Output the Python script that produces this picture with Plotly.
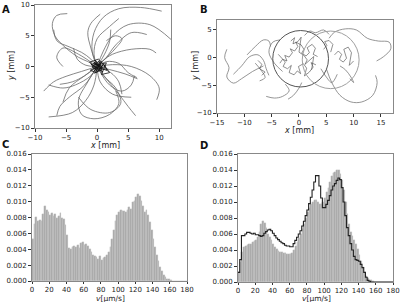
import numpy as np
import plotly.graph_objects as go

# ---------------- DATA ----------------
# Panel A trajectories (x, y in mm)
traj_A = [
    ([0, -1.5, -3, -5, -6.8, -7.2, -6.5, -4.8], [0, 0.8, 1.5, 3, 5, 7, 8.3, 8.6]),
    ([0, -0.8, -0.5, 1, 3.5, 7, 10.4], [0, 2.5, 5.5, 8, 9.4, 9.6, 9.0]),
    ([0, 1, 2.5, 5, 8.5, 11.9], [0, 2.5, 5, 6.8, 6.8, 4.4]),
    ([0, 1.5, 3, 5.5, 8], [0, 1.5, 3.5, 5.5, 5.2]),
    ([0, 2.5, 5.5, 8.5, 10, 9.6], [0, 0.3, 0, -1.5, -3.5, -5.4]),
    ([0, 1.5, 3.5, 5, 6.2], [0, -2, -4.5, -6.5, -8.0]),
    ([0, -0.5, -1.8, -4, -7.8], [0, -3, -5.5, -7.5, -8.2]),
    ([0, -2.5, -5, -7, -8.6], [0, -0.8, -1.6, -2.5, -4.0]),
    ([0, -2, -4, -6], [0, -1.5, -2.5, -2.9]),
    ([0, -1, -2.5, -4.5, -6.5, -7.0], [0, 1.2, 2.3, 3.2, 4.2, 6.0]),
    ([0, -1.5, -3, -2.5, -0.5, 2, 3.5, 3], [0, -2.5, -5.5, -7.8, -8.5, -7.8, -6, -4]),
    ([0, 1, 3, 3.8, 2, -1, -3], [0, -1.5, -3.5, -6, -7.5, -7, -5]),
    ([0, 2, 4.5, 6.5], [0, -0.5, -1.2, -2]),
    ([0, 1, 2.5, 5.5, 8.5, 9.5], [0, 1, 2, 2.8, 2.8, 2.2]),
    ([0, -0.5, 0, 2, 3.5], [0, 2, 4.5, 6.5, 7.8]),
    ([0, -2, -4.5, -6, -6.5], [0, -3, -5, -6.5, -8]),
    ([0, 1.5, 3.5, 5, 6.4], [0, 0.8, 0.5, -1, -1.8]),
    ([0, -3, -5.5, -6.5, -5.5], [0, 2, 3, 1.5, 0]),
    ([0, 2, 4, 5.5, 6], [0, -3, -4, -3, -1.5]),
    ([0, -1, -1.5, -1, 0.5], [0, 3, 5.5, 7, 8.5]),
    ([0, -2, -4.5, -5.5], [0, -1.5, -3.5, -5.8]),
    ([0, 3, 4, 3, 1.5], [0, 3, 4.5, 5, 4.2]),
    ([0, -1, -3.5, -5.5, -7.8], [0, -1.5, -3, -3.5, -3.0]),
    ([0, 0.5, 2.5, 5.5], [0, -2.5, -4.5, -5.0]),
    ([0, 1.2, 2.0, 2.2], [0, 2.0, 4.0, 6.0]),
    ([0, 2.2, 3.5, 4.0], [0, -1.0, -2.5, -4.5]),
    ([0, -1.8, -3.2, -3.8], [0, 0.2, 1.2, 3.0]),
]
center_A = [
    ([-0.9, -0.3, 0.2, -0.5, 0.6, 1.0, 0.1, -0.8, 0.3, 0.8, -0.2, -1.1, 0.4, -0.6, 0.9],
     [0.2, -0.4, 0.3, 0.7, -0.3, 0.4, -0.8, -0.1, 0.9, -0.5, -1.0, -0.6, 0.1, 0.5, -0.1]),
    ([-0.6, 0.5, -0.3, 0.9, -1.0, 0.1, 0.7, -0.4, 1.3, 0.2, -1.2, 0.0, 0.6],
     [-0.8, 0.1, 1.0, -0.9, 0.4, -0.2, 0.8, -1.1, 0.1, 1.2, 0.7, -0.5, -0.2]),
    ([0.3, 1.6, 1.1, 2.0, 0.7, 1.5, -0.2], [-0.3, -0.6, 0.3, -1.0, -1.3, 0.6, 0.2]),
]

# Panel B trajectories
traj_B = [
    ([-13.2, -13.6, -12.8, -13.2, -12, -10.5, -8.5, -6.5], [1.5, 0, -1.8, -3.5, -4.6, -3.8, -2.5, -1.5]),
    ([-12, -10.5, -9, -7.5, -6.5, -6, -5.5], [-3, -1.5, 0.2, 0.5, -0.5, -2, -3.2]),
    ([-9.5, -8, -6.5, -5.5, -5.2], [0.5, 2, 3.2, 3, 2]),
    ([-6, -4.5, -3, -1.8, -2.5], [-7, -7.3, -7, -6, -4.8]),
    ([-2, -1, 0, 0.5], [-7.5, -6.8, -5.5, -4.5]),
    ([5, 6, 7.5, 9.5, 11.5, 13.5, 14.3, 14], [-2, -4.5, -6.8, -8, -8, -6.8, -4.5, -3.2]),
    ([5.5, 6.5, 8.5, 10.5, 12.5, 14.5, 16.5, 16.8, 15.5, 14.2], [3.5, 4.6, 5.2, 5.0, 3.5, 3.0, 2.8, 1.6, 0.2, -0.6]),
    ([1, 2, 3, 4.5, 5.5], [4, 4.8, 4.5, 5, 4.2]),
    ([7.5, 8.5, 9.5, 10, 9.3], [-1.5, -2.2, -3.5, -4.5, -3.8]),
    ([-3.5, -4.8, -5.5, -4.5, -3], [3.2, 2.8, 1, -1, -2.5]),
    ([4, 5, 6, 7], [-2, -3.5, -4.5, -3]),
    ([-8, -7, -6.2, -7.2], [-1.0, -2.2, -3.6, -4.2]),
]
jagged_B = [
    ([-3.5, -3.0, -2.2, -2.6, -1.8, -1.2, -1.6, -0.8, -0.2, -0.6, 0.4, 0.9, 0.5, 1.3, 1.9, 1.5, 2.4, 3.0, 2.6, 3.4],
     [-1.0, -0.3, -0.6, 0.4, 0.1, 0.9, 1.6, 1.2, 2.0, 2.8, 2.3, 1.5, 0.8, 0.3, 0.9, 1.8, 2.4, 1.7, 0.6, 0.2]),
    ([-3.8, -3.2, -2.5, -2.9, -2.1, -1.4, -1.8, -0.9, -0.3, 0.3, -0.1, 0.8, 1.4, 1.0, 1.9, 2.6, 2.2, 3.1],
     [0.6, 0.0, -0.8, -1.6, -2.0, -1.4, -2.7, -3.1, -2.4, -2.9, -1.6, -1.1, -1.9, -3.3, -2.6, -1.7, -0.9, -1.3]),
    ([-1.5, -0.8, -1.1, -0.2, 0.4, 0.0, 0.9, 1.5, 1.1, 2.0, 2.7, 2.3],
     [3.0, 3.6, 2.5, 2.9, 3.7, 1.0, 0.4, -0.4, -1.2, -0.5, 0.2, -2.2]),
    ([6.5, 7.2, 7.8, 7.4, 8.1, 8.7, 8.2, 9.0, 9.6, 9.2, 10.0],
     [0.5, 1.2, 0.6, -0.3, -0.8, -0.1, 1.5, 1.9, 0.9, -1.4, -0.6]),
    ([-7.5, -6.8, -7.2, -6.2, -6.8], [-0.5, -1.2, -2.0, -2.6, -3.2]),
    ([4.5, 5.1, 4.7, 5.5, 6.2, 5.8], [1.5, 2.2, 2.9, 3.1, 2.4, 1.0]),
]
circle_cx = [0.3, 5.8]
circle_cy = [-0.2, -0.4]
circle_r = [5.1, 5.2]
circle_col = ["#555555", "#a0a0a0"]

# Panel C histogram (bin width 2 um/s, 0-180)
hist_C = [0.0053, 0.0072, 0.0081, 0.0076, 0.0077, 0.0076, 0.0085, 0.0094, 0.0090, 0.0087,
          0.0083, 0.0086, 0.0082, 0.0084, 0.0080, 0.0082, 0.0086, 0.0080, 0.0078, 0.0070,
          0.0058, 0.0042, 0.0040, 0.0043, 0.0044, 0.0043, 0.0045, 0.0042, 0.0048, 0.0049,
          0.0045, 0.0046, 0.0044, 0.0040, 0.0036, 0.0033, 0.0031, 0.0030, 0.0028, 0.0032,
          0.0027, 0.0029, 0.0030, 0.0033, 0.0036, 0.0043, 0.0053, 0.0064, 0.0075, 0.0083,
          0.0087, 0.0089, 0.0088, 0.0088, 0.0087, 0.0090, 0.0093, 0.0091, 0.0099, 0.0101,
          0.0106, 0.0110, 0.0107, 0.0101, 0.0095, 0.0087, 0.0089, 0.0083, 0.0074, 0.0064,
          0.0053, 0.0043, 0.0033, 0.0025, 0.0018, 0.0012, 0.0008, 0.0005, 0.0003, 0.0002,
          0.0001, 0.00005, 0.00003, 0.00002, 0.00002, 0.0, 0.0, 0.0, 0.0, 0.0]

# Panel D histograms
hist_D_bar = [0.0013, 0.0025, 0.0038, 0.0044, 0.0045, 0.0046, 0.0047, 0.0048, 0.0050, 0.0051,
              0.0053, 0.0056, 0.0063, 0.0073, 0.0076, 0.0074, 0.0068, 0.0060, 0.0056, 0.0052,
              0.0048, 0.0044, 0.0041, 0.0039, 0.0038, 0.0037, 0.0036, 0.0036, 0.0035, 0.0035,
              0.0035, 0.0036, 0.0040, 0.0045, 0.0050, 0.0055, 0.0060, 0.0066, 0.0072, 0.0080,
              0.0087, 0.0093, 0.0097, 0.0100, 0.0103, 0.0102, 0.0100, 0.0098, 0.0097, 0.0100,
              0.0105, 0.0112, 0.0118, 0.0125, 0.0133, 0.0136, 0.0138, 0.0140, 0.0140, 0.0135,
              0.0127, 0.0115, 0.0100, 0.0085, 0.0072, 0.0063, 0.0057, 0.0052, 0.0047, 0.0041,
              0.0034, 0.0026, 0.0019, 0.0013, 0.0008, 0.0005, 0.0003, 0.0002, 0.0001, 0.00005,
              0.00003, 0.00002, 0.00002, 0.00001, 0.0, 0.0, 0.0, 0.0, 0.0, 0.0]
hist_D_line = [0.0012, 0.0028, 0.0058, 0.0058, 0.0060, 0.0062, 0.0062, 0.0061, 0.0060, 0.0061,
               0.0059, 0.0059, 0.0058, 0.0057, 0.0058, 0.0061, 0.0063, 0.0065, 0.0066, 0.0064,
               0.0061, 0.0058, 0.0055, 0.0053, 0.0051, 0.0049, 0.0048, 0.0046, 0.0045, 0.0045,
               0.0044, 0.0044, 0.0048, 0.0052, 0.0056, 0.0060, 0.0064, 0.0070, 0.0076, 0.0083,
               0.0090, 0.0098, 0.0106, 0.0115, 0.0125, 0.0133, 0.0133, 0.0120, 0.0105, 0.0093,
               0.0093, 0.0097, 0.0102, 0.0108, 0.0115, 0.0120, 0.0123, 0.0127, 0.0130, 0.0128,
               0.0118, 0.0100, 0.0083, 0.0068, 0.0058, 0.0048, 0.0040, 0.0032, 0.0028, 0.0027,
               0.0026, 0.0022, 0.0018, 0.0012, 0.0006, 0.0002, 0.0001, 0.0, 0.0, 0.0,
               0.0, 0.0, 0.0, 0.0, 0.0, 0.0, 0.0, 0.0, 0.0, 0.0]

bin_width = 2
bin_edges = np.arange(0, 180 + bin_width, bin_width)
bin_centers = bin_edges[:-1] + bin_width / 2

# ---------------- FIGURE ----------------
fig = go.Figure()
TRAJ_COL = "#6a6a6a"

for xs, ys in traj_A:
    fig.add_trace(go.Scatter(x=xs, y=ys, mode="lines", line=dict(color=TRAJ_COL, width=0.8, shape="spline"),
                             xaxis="x", yaxis="y", showlegend=False, hoverinfo="skip"))
for xs, ys in center_A:
    fig.add_trace(go.Scatter(x=xs, y=ys, mode="lines", line=dict(color="#111111", width=0.8),
                             xaxis="x", yaxis="y", showlegend=False, hoverinfo="skip"))

for xs, ys in traj_B:
    fig.add_trace(go.Scatter(x=xs, y=ys, mode="lines", line=dict(color="#7a7a7a", width=0.8, shape="spline"),
                             xaxis="x2", yaxis="y2", showlegend=False, hoverinfo="skip"))
for xs, ys in jagged_B:
    fig.add_trace(go.Scatter(x=xs, y=ys, mode="lines", line=dict(color="#444444", width=0.6),
                             xaxis="x2", yaxis="y2", showlegend=False, hoverinfo="skip"))
for cx, cy, r, c in zip(circle_cx, circle_cy, circle_r, circle_col):
    fig.add_shape(type="circle", xref="x2", yref="y2", x0=cx - r, x1=cx + r, y0=cy - r, y1=cy + r,
                  line=dict(color=c, width=1))

BAR_COL = "#a8a8a8"
fig.add_trace(go.Bar(x=bin_centers, y=hist_C, width=bin_width,
                     marker=dict(color=BAR_COL, line=dict(color="#d0d0d0", width=0.3)),
                     xaxis="x3", yaxis="y3", showlegend=False))
fig.add_trace(go.Bar(x=bin_centers, y=hist_D_bar, width=bin_width,
                     marker=dict(color=BAR_COL, line=dict(color="#d0d0d0", width=0.3)),
                     xaxis="x4", yaxis="y4", showlegend=False))
fig.add_trace(go.Scatter(x=bin_edges, y=hist_D_line + [hist_D_line[-1]], mode="lines",
                         line=dict(color="#222222", width=1.1, shape="hv"),
                         xaxis="x4", yaxis="y4", showlegend=False))

FONT = "DejaVu Sans"
tickf = dict(family=FONT, size=7, color="#222")
common = dict(showgrid=False, zeroline=False, showline=True, mirror=True, linecolor="#888", linewidth=1,
              ticks="outside", ticklen=3, tickwidth=0.8, tickcolor="#333", tickfont=tickf,
              automargin=False)
bottom_hist = dict(common, ticklen=2)

W, H = 400, 302
def dx(a, b):
    return [a / W, b / W]
def dy(top, bottom):
    return [1 - bottom / H, 1 - top / H]

fig.update_layout(
    width=W, height=H, margin=dict(l=0, r=0, t=0, b=0, autoexpand=False),
    paper_bgcolor="white", plot_bgcolor="white", bargap=0,
    xaxis=dict(domain=dx(35, 171), range=[-10, 11.9], tickvals=[-10, -5, 0, 5, 10],
               ticktext=["\u221210", "\u22125", "0", "5", "10"], anchor="y", **common),
    yaxis=dict(domain=dy(5, 128), range=[-10, 10], tickvals=[-10, -5, 0, 5, 10],
               ticktext=["\u221210", "\u22125", "0", "5", "10"], anchor="x", **common),
    xaxis2=dict(domain=dx(217, 393), range=[-15, 17.2], tickvals=[-15, -10, -5, 0, 5, 10, 15],
                ticktext=["\u221215", "\u221210", "\u22125", "0", "5", "10", "15"], anchor="y2", **common),
    yaxis2=dict(domain=dy(20, 113), range=[-10, 6.8], tickvals=[-10, -5, 0, 5],
                ticktext=["\u221210", "\u22125", "0", "5"], anchor="x2", **common),
    xaxis3=dict(domain=dx(32, 187), range=[0, 180], tickvals=list(range(0, 181, 20)), anchor="y3", **bottom_hist),
    yaxis3=dict(domain=dy(154, 281), range=[0, 0.016], tickvals=[i * 0.002 for i in range(9)],
                tickformat=".3f", anchor="x3", **common),
    xaxis4=dict(domain=dx(238, 393), range=[0, 180], tickvals=list(range(0, 181, 20)), anchor="y4", **bottom_hist),
    yaxis4=dict(domain=dy(154, 282), range=[0, 0.016], tickvals=[i * 0.002 for i in range(9)],
                tickformat=".3f", anchor="x4", **common),
)

titlef = dict(family=FONT, size=8, color="#222")
axis_titles = [
    ("<i>x</i> [mm]", 105, 145.5, 0, 8),
    ("<i>y</i> [mm]", 11, 66, -90, 8),
    ("<i>x</i> [mm]", 299, 130, 0, 8),
    ("<i>y</i> [mm]", 195, 66, -90, 8),
    ("<i>v</i>[\u03bcm/s]", 110, 298, 0, 7.5),
    ("<i>v</i>[\u03bcm/s]", 316, 298, 0, 7.5),
]
for txt, x, y, ang, fs in axis_titles:
    fig.add_annotation(text=txt, x=x / W, y=1 - y / H, xref="paper", yref="paper", showarrow=False,
                       font=dict(titlef, size=fs), textangle=ang, xanchor="center", yanchor="middle")

labf = dict(family=FONT, size=10, color="#111")
for txt, x, y in [("A", 6, 9), ("B", 204, 9), ("C", 5, 144), ("D", 204, 145)]:
    fig.add_annotation(text="<b>" + txt + "</b>", x=x / W, y=1 - y / H, xref="paper", yref="paper",
                       showarrow=False, font=labf, xanchor="center", yanchor="middle")

fig.write_html("out.html", config={"displayModeBar": False},
               post_script="document.body.style.margin='0';document.body.style.padding='0';document.documentElement.style.overflow='hidden';")
